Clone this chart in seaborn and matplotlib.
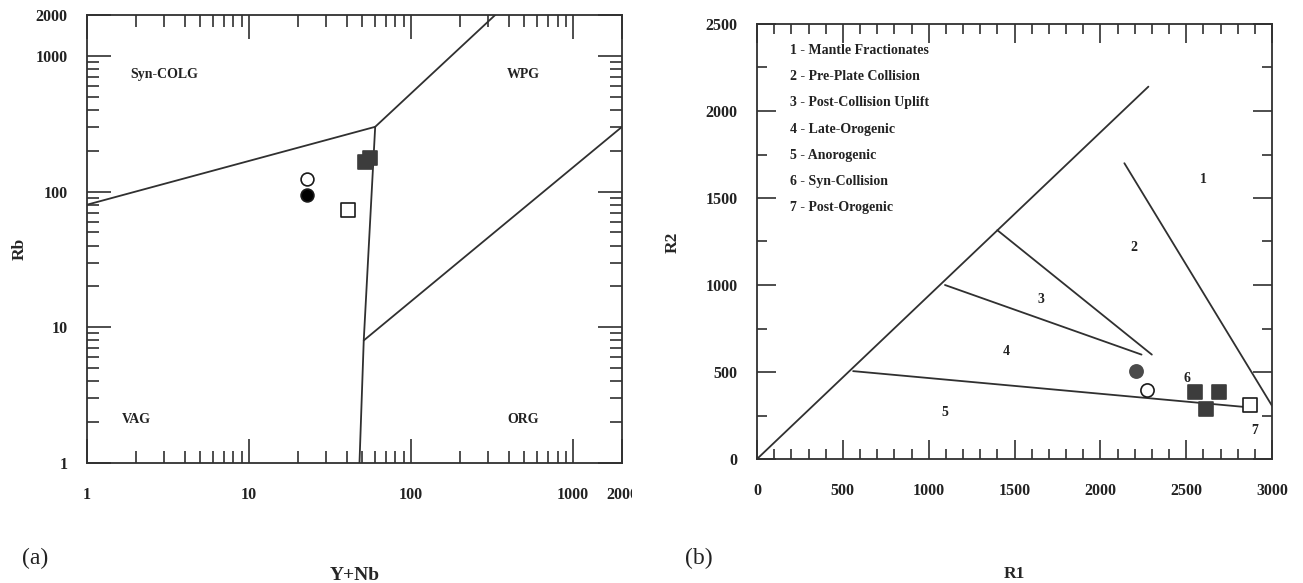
import matplotlib
matplotlib.use("Agg")
import matplotlib.pyplot as plt
import matplotlib.transforms as mtrans
import seaborn as sns
import pandas as pd

# ---------------- data: panel (a) Rb vs Y+Nb ----------------
a_open_circle_x = [22.9]
a_open_circle_y = [124]
a_filled_circle_x = [22.9]
a_filled_circle_y = [94]
a_open_square_x = [40.8]
a_open_square_y = [72.6]
a_filled_square_x = [52, 56]
a_filled_square_y = [165, 178]

# field boundaries (a)
a_b1_x = [1, 60]; a_b1_y = [80, 300]
a_b2_x = [60, 330]; a_b2_y = [300, 2000]
a_b3_x = [60, 51, 48]; a_b3_y = [300, 8, 1]
a_b4_x = [51, 2000]; a_b4_y = [8, 300]

a_labels = ["Syn-COLG", "WPG", "VAG", "ORG"]
a_label_x = [3.0, 490, 2.03, 490]
a_label_y = [735, 735, 2.08, 2.08]

a_ticks = [1, 10, 100, 1000, 2000]
a_ticklabels = ["1", "10", "100", "1000", "2000"]

# ---------------- data: panel (b) R1-R2 ----------------
b_filled_circle_x = [2205]
b_filled_circle_y = [505]
b_open_circle_x = [2271]
b_open_circle_y = [394]
b_filled_square_x = [2553, 2694, 2614]
b_filled_square_y = [383, 387, 285]
b_open_square_x = [2869]
b_open_square_y = [312]

b_lines_x = [[0, 2280], [2140, 3000], [1400, 2300], [1095, 2240], [560, 2830]]
b_lines_y = [[0, 2140], [1700, 306], [1315, 600], [1000, 600], [505, 300]]

b_region_labels = ["1", "2", "3", "4", "5", "6", "7"]
b_region_x = [2601, 2198, 1652, 1452, 1095, 2502, 2902]
b_region_y = [1607, 1216, 916, 616, 265, 462, 163]

b_legend = ["1 - Mantle Fractionates", "2 - Pre-Plate Collision",
            "3 - Post-Collision Uplift", "4 - Late-Orogenic",
            "5 - Anorogenic", "6 - Syn-Collision", "7 - Post-Orogenic"]
b_legend_y = [2346, 2196, 2046, 1896, 1746, 1596, 1446]
b_legend_x = 194

# ---------------- style ----------------
sns.set_theme(style="ticks")
plt.rcParams["font.family"] = ["Liberation Serif", "DejaVu Serif"]
plt.rcParams["font.weight"] = "bold"
LC = "#303030"
TC = "#222222"

W, H = 1303, 583
fig = plt.figure(figsize=(W / 100, H / 100), dpi=100)
fig.patch.set_facecolor("white")

ax1 = fig.add_axes([87 / W, 1 - 463 / H, (622 - 87) / W, (463 - 15) / H])
ax2 = fig.add_axes([757 / W, 1 - 459 / H, (1272 - 757) / W, (459 - 24) / H])

for ax in (ax1, ax2):
    ax.set_facecolor("white")
    for s in ax.spines.values():
        s.set_color(LC)
        s.set_linewidth(1.3)
        s.set_visible(True)


def draw_line(ax, xs, ys):
    df = pd.DataFrame({"x": xs, "y": ys})
    sns.lineplot(data=df, x="x", y="y", sort=False, estimator=None,
                 color=LC, linewidth=1.3, ax=ax)


def draw_pts(ax, xs, ys, marker, face, size, edge="#1a1a1a"):
    df = pd.DataFrame({"x": xs, "y": ys})
    sns.scatterplot(data=df, x="x", y="y", marker=marker, s=size,
                    color=face, facecolor=face, edgecolor=edge,
                    linewidth=1.2, ax=ax, zorder=5)


# ---------------- panel (a) ----------------
ax1.set_xscale("log")
ax1.set_yscale("log")
for xs, ys in [(a_b1_x, a_b1_y), (a_b2_x, a_b2_y), (a_b3_x, a_b3_y), (a_b4_x, a_b4_y)]:
    draw_line(ax1, xs, ys)
draw_pts(ax1, a_open_circle_x, a_open_circle_y, "o", "white", 85)
draw_pts(ax1, a_filled_circle_x, a_filled_circle_y, "o", "black", 85)
draw_pts(ax1, a_open_square_x, a_open_square_y, "s", "white", 110)
draw_pts(ax1, a_filled_square_x, a_filled_square_y, "s", "#3c3c3c", 115, edge="#3c3c3c")

for t, x, y in zip(a_labels, a_label_x, a_label_y):
    ax1.text(x, y, t, ha="center", va="center", fontsize=10, fontweight="bold", color=TC)

ax1.set_xlim(1, 2000)
ax1.set_ylim(1, 2000)
ax1.set_xticks(a_ticks)
ax1.set_xticklabels(a_ticklabels)
ax1.set_yticks(a_ticks)
ax1.set_yticklabels(a_ticklabels)
minor = [m * d for d in (1, 10, 100) for m in range(2, 10)]
ax1.set_xticks(minor, minor=True)
ax1.set_yticks(minor, minor=True)
ax1.set_xticklabels([], minor=True)
ax1.set_yticklabels([], minor=True)
ax1.tick_params(which="major", direction="in", length=17, width=1.2, color=LC,
                top=True, right=True, labelsize=11.5)
ax1.tick_params(which="minor", direction="in", length=8.5, width=1.2, color=LC,
                top=True, right=True)
ax1.tick_params(axis="y", which="major", pad=14)
ax1.tick_params(axis="x", which="major", pad=17)
ax1.set_xlabel("Y+Nb", fontsize=14, fontweight="bold")
ax1.set_ylabel("Rb", fontsize=12.5, fontweight="bold")
ax1.xaxis.set_label_coords(0.5, (463 - 575) / 448)
ax1.xaxis.label.set_va("center")
ax1.yaxis.set_label_coords((20 - 87) / 535, (463 - 249) / 448)
ax1.yaxis.label.set_va("center")

clip = mtrans.TransformedBbox(mtrans.Bbox([[0, 0], [632 / W, 1]]), fig.transFigure)
for lab in ax1.get_xticklabels():
    lab.set_clip_box(clip)
    lab.set_clip_on(True)

fig.text(35 / W, 1 - 558 / H, "(a)", ha="center", va="center", fontsize=17,
         fontweight="normal", color=TC)

# ---------------- panel (b) ----------------
for xs, ys in zip(b_lines_x, b_lines_y):
    draw_line(ax2, xs, ys)
draw_pts(ax2, b_filled_circle_x, b_filled_circle_y, "o", "#4a4a4a", 90, edge="#4a4a4a")
draw_pts(ax2, b_open_circle_x, b_open_circle_y, "o", "white", 90)
draw_pts(ax2, b_filled_square_x, b_filled_square_y, "s", "#3c3c3c", 105, edge="#3c3c3c")
draw_pts(ax2, b_open_square_x, b_open_square_y, "s", "white", 105)

for t, x, y in zip(b_region_labels, b_region_x, b_region_y):
    ax2.text(x, y, t, ha="center", va="center", fontsize=10, fontweight="bold", color=TC)
for t, y in zip(b_legend, b_legend_y):
    ax2.text(b_legend_x, y, t, ha="left", va="center", fontsize=10, fontweight="bold", color=TC)

ax2.set_xlim(0, 3000)
ax2.set_ylim(0, 2500)
ax2.set_xticks(range(0, 3001, 500))
ax2.set_yticks(range(0, 2501, 500))
ax2.set_xticks(range(0, 3001, 100), minor=True)
ax2.set_yticks(range(0, 2501, 250), minor=True)
ax2.tick_params(which="major", direction="in", length=14, width=1.2, color=LC,
                top=True, right=True, labelsize=11.5)
ax2.tick_params(which="minor", direction="in", length=7, width=1.2, color=LC,
                top=True, right=True)
ax2.tick_params(axis="y", which="major", pad=14)
ax2.tick_params(axis="x", which="major", pad=17)
ax2.set_xlabel("R1", fontsize=12.5, fontweight="bold")
ax2.set_ylabel("R2", fontsize=12.5, fontweight="bold")
ax2.xaxis.set_label_coords(0.5, (459 - 574) / 435)
ax2.xaxis.label.set_va("center")
ax2.yaxis.set_label_coords((673 - 757) / 515, (459 - 242) / 435)
ax2.yaxis.label.set_va("center")

fig.text(699 / W, 1 - 558 / H, "(b)", ha="center", va="center", fontsize=17,
         fontweight="normal", color=TC)

for ax in (ax1, ax2):
    for lab in ax.get_xticklabels() + ax.get_yticklabels():
        lab.set_fontweight("bold")
        lab.set_color(TC)

fig.savefig("out.png", dpi=100, facecolor="white")
